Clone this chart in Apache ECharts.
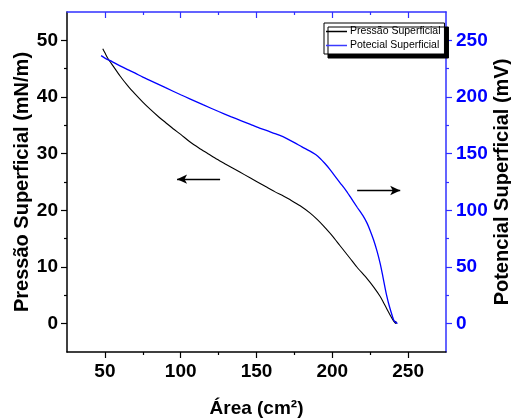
<!DOCTYPE html>
<html>
<head>
<meta charset="utf-8">
<script src="https://cdn.jsdelivr.net/npm/echarts@6/dist/echarts.min.js"></script>
<style>html,body{margin:0;padding:0;background:#fff}#c{width:511px;height:419px}</style>
</head>
<body>
<div id="c"></div>
<script>
// ---- data ----
const areaP = [48.6, 50, 52, 55.6, 60, 65, 70, 75, 80, 85, 90, 95, 100, 106, 112, 118, 124, 130, 136, 142, 150, 156, 162, 168, 172, 178.8, 185.4, 190, 194, 200, 205, 211.8, 216.2, 222.8, 227.2, 231.6, 234, 236, 238.2, 240.4, 241.8, 242.3, 241.5];
const pressao = [48.5, 47.8, 46.8, 45.4, 43.7, 42.0, 40.5, 39.1, 37.8, 36.6, 35.5, 34.4, 33.4, 32.1, 31.0, 30.0, 29.0, 28.1, 27.2, 26.3, 25.1, 24.2, 23.3, 22.5, 21.9, 20.8, 19.5, 18.4, 17.3, 15.5, 13.8, 11.5, 10.0, 8.0, 6.5, 4.8, 3.6, 2.6, 1.5, 0.5, 0.05, 0.2, 0.45];
const areaV = [47.5, 50, 55, 60, 65, 70, 75, 80, 90, 100, 106, 115, 125, 133, 140, 146, 152, 159, 165, 170, 175, 180, 185, 189, 192, 195, 198, 201, 205, 208.5, 211.8, 216.5, 220.6, 223, 225, 227.2, 229.5, 231.6, 233.3, 234.9, 236, 237.1, 238.6, 240.4, 241.5, 243];
const potencial = [236.5, 234.3, 231, 227.5, 224.2, 221, 217.6, 214.5, 208.2, 202, 198.4, 193, 187.2, 182.7, 179, 175.8, 172.6, 169.3, 166.3, 163.3, 159.8, 156, 152.5, 149.2, 145.8, 141.5, 136.8, 131.5, 124.5, 118.5, 112, 102.5, 94.5, 88.5, 82, 74, 64, 53, 42, 31, 24, 18, 11, 3.5, 1.5, 0.1];

const xTicks = [50, 100, 150, 200, 250];
const xMinor = [75, 125, 175, 225];
const leftTicks = [0, 10, 20, 30, 40, 50];
const leftMinor = [5, 15, 25, 35, 45];
const rightTicks = [0, 50, 100, 150, 200, 250];
const rightMinor = [25, 75, 125, 175, 225];

// arrows (data coordinates of the black-axis system): [fromArea, toArea, level]
const arrowLeft = [126, 97.6, 25.5];
const arrowRight = [216.4, 244.8, 23.5];

const FONT = "'Liberation Sans', Arial, sans-serif";
const BLUE = '#0000ff';
const AXBLUE = '#3030ff';

function zip(a, b) { return a.map((v, i) => [v, b[i]]); }

const labelStyle = (color) => ({ fontFamily: FONT, fontWeight: 'bold', fontSize: 19, color: color });

function majorX(pos, color, inside, showLabel, name) {
  return {
    type: 'value', position: pos, min: 25, max: 275,
    name: name || '', nameLocation: 'middle', nameGap: 47,
    nameTextStyle: { fontFamily: FONT, fontWeight: 'bold', fontSize: 19, color: '#000' },
    axisLine: { show: true, onZero: false, lineStyle: { color: color, width: 1.5 } },
    axisTick: { show: true, inside: inside, length: 6, customValues: xTicks, lineStyle: { color: color, width: 1.2 } },
    axisLabel: { show: showLabel, margin: 10, customValues: xTicks, ...labelStyle('#000') },
    splitLine: { show: false }
  };
}
function minorX(pos, color, inside) {
  return {
    type: 'value', position: pos, min: 25, max: 275,
    axisLine: { show: false, onZero: false },
    axisTick: { show: true, inside: inside, length: 3, customValues: xMinor, lineStyle: { color: color, width: 1.2 } },
    axisLabel: { show: false },
    splitLine: { show: false }
  };
}

const option = {
  animation: false,
  backgroundColor: '#fff',
  grid: { left: 67, right: 65, top: 12, bottom: 67, containLabel: false, outerBoundsMode: 'none' },
  legend: {
    orient: 'vertical', left: 324, top: 23,
    backgroundColor: '#fff', borderColor: '#000', borderWidth: 1,
    shadowColor: '#000', shadowBlur: 0, shadowOffsetX: 4, shadowOffsetY: 4,
    padding: [3, 4, 3, 2], itemGap: 3, itemWidth: 21, itemHeight: 1.5, icon: 'rect',
    textStyle: { fontFamily: FONT, fontSize: 10.5, color: '#000', padding: [0, 0, 0, -2] },
    data: ['Pressão Superficial', 'Potecial Superficial']
  },
  xAxis: [
    majorX('bottom', '#000', false, true, 'Área (cm²)'),
    minorX('bottom', '#000', false),
    majorX('top', AXBLUE, true, false),
    minorX('top', AXBLUE, true)
  ],
  yAxis: [
    {
      type: 'value', position: 'left', min: -5, max: 55,
      name: 'Pressão Superficial (mN/m)', nameLocation: 'middle', nameGap: 35, nameRotate: 90, nameMoveOverlap: false,
      nameTextStyle: { fontFamily: FONT, fontWeight: 'bold', fontSize: 20, color: '#000' },
      axisLine: { show: true, onZero: false, lineStyle: { color: '#000', width: 1.5 } },
      axisTick: { show: true, length: 6, customValues: leftTicks, lineStyle: { color: '#000', width: 1.2 } },
      axisLabel: { margin: 9, customValues: leftTicks, ...labelStyle('#000') },
      splitLine: { show: false }
    },
    {
      type: 'value', position: 'left', min: -5, max: 55,
      axisLine: { show: false, onZero: false },
      axisTick: { show: true, length: 3, customValues: leftMinor, lineStyle: { color: '#000', width: 1.2 } },
      axisLabel: { show: false }, splitLine: { show: false }
    },
    {
      type: 'value', position: 'right', min: -25, max: 275,
      name: 'Potencial Superficial (mV)', nameLocation: 'middle', nameGap: 46, nameRotate: 90, nameMoveOverlap: false,
      nameTextStyle: { fontFamily: FONT, fontWeight: 'bold', fontSize: 20, color: '#000' },
      axisLine: { show: true, onZero: false, lineStyle: { color: AXBLUE, width: 1.5 } },
      axisTick: { show: true, length: 6, customValues: rightTicks, lineStyle: { color: AXBLUE, width: 1.2 } },
      axisLabel: { margin: 10, customValues: rightTicks, ...labelStyle(BLUE) },
      splitLine: { show: false }
    },
    {
      type: 'value', position: 'right', min: -25, max: 275,
      axisLine: { show: false, onZero: false },
      axisTick: { show: true, length: 3, customValues: rightMinor, lineStyle: { color: AXBLUE, width: 1.2 } },
      axisLabel: { show: false }, splitLine: { show: false }
    }
  ],
  series: [
    {
      name: 'Pressão Superficial', type: 'line', xAxisIndex: 0, yAxisIndex: 0,
      data: zip(areaP, pressao), showSymbol: false, symbol: 'none', smooth: 0.25,
      lineStyle: { color: '#000', width: 1.1 }, itemStyle: { color: '#000' },
      markLine: {
        silent: true, symbol: ['none', 'arrow'], symbolSize: [7, 10],
        label: { show: false },
        lineStyle: { color: '#000', width: 1.3, type: 'solid' },
        data: [
          [{ coord: [arrowLeft[0], arrowLeft[2]] }, { coord: [arrowLeft[1], arrowLeft[2]] }],
          [{ coord: [arrowRight[0], arrowRight[2]] }, { coord: [arrowRight[1], arrowRight[2]] }]
        ]
      }
    },
    {
      name: 'Potecial Superficial', type: 'line', xAxisIndex: 0, yAxisIndex: 2,
      data: zip(areaV, potencial), showSymbol: false, symbol: 'none', smooth: 0.25,
      lineStyle: { color: BLUE, width: 1.3 }, itemStyle: { color: '#3a3aff' }
    }
  ]
};

const chart = echarts.init(document.getElementById('c'), null, { renderer: 'canvas' });
chart.setOption(option);
</script>
</body>
</html>
